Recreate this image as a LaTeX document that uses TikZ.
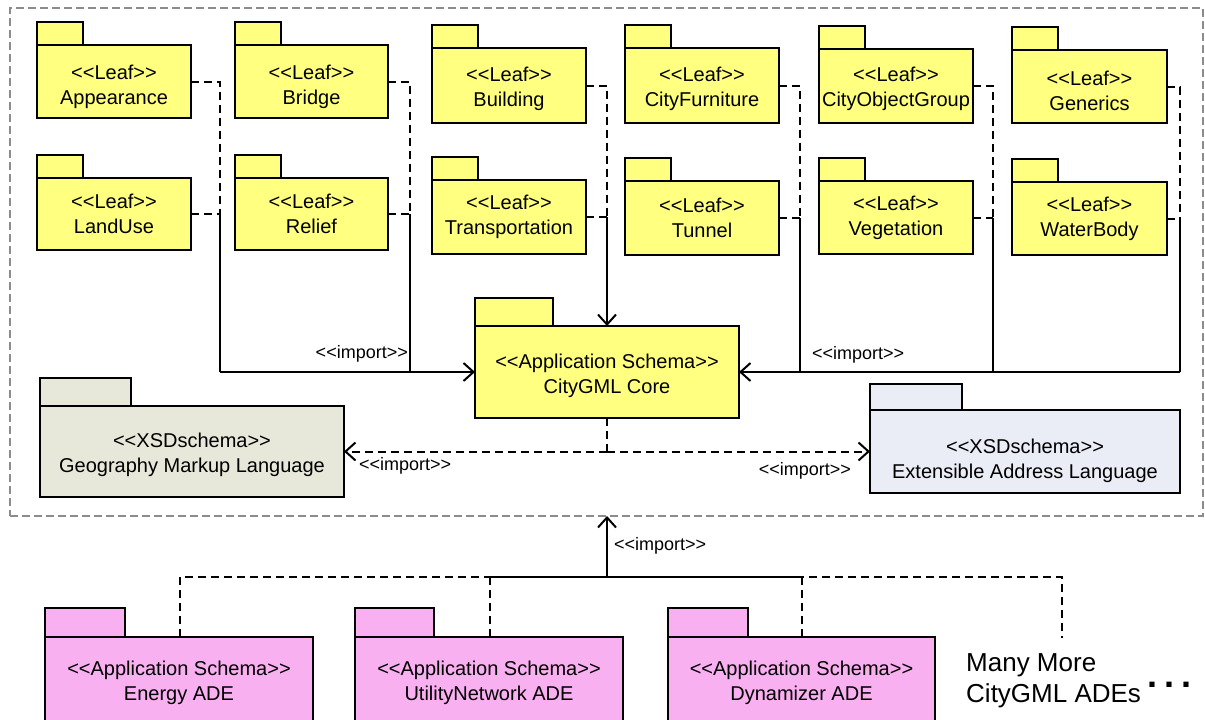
\documentclass[tikz,border=0pt]{standalone}
\usepackage{fontspec}
\setmainfont{Liberation Sans}
\usetikzlibrary{arrows.meta}
\definecolor{leafy}{RGB}{255,255,128}
\definecolor{gmlc}{RGB}{232,232,218}
\definecolor{xalc}{RGB}{234,236,246}
\definecolor{adec}{RGB}{249,176,240}
\definecolor{framec}{RGB}{140,140,140}
\newcommand\stereo[1]{<\kern0pt<#1>\kern0pt>}
% invisible strut that moves a centred two-line text down by #1 pt
\newcommand\sh[1]{\rule{0pt}{\dimexpr 15pt+#1pt+#1pt\relax}}
\newcommand\pkg[9]{%
  \node[pkgbody,#2,minimum width=#5pt,minimum height=#6pt,anchor=north west] (#1) at (#3,#4) {#9};
  \draw[pkgtab,#2] (#1.north west) rectangle ++(#7,-#8);
}
\begin{document}
\begin{tikzpicture}[x=1pt,y=-1pt,
  pkgbody/.style={draw, line width=2.8pt, inner sep=0pt, outer sep=0pt, align=center, font=\fontsize{20}{25}\selectfont},
  pkgtab/.style={draw, line width=2.8pt},
  leaf/.style={fill=leafy},
  gmlpkg/.style={fill=gmlc},
  xalpkg/.style={fill=xalc},
  adepkg/.style={fill=adec},
  dep/.style={line width=2pt, dash pattern=on 8pt off 5pt},
  imp/.style={line width=2pt},
  arr/.style={-{Straight Barb[length=10pt,width=18pt]}},
  lbl/.style={inner sep=0pt, font=\fontsize{18}{22}\selectfont},
  framebox/.style={draw=framec, line width=2pt, dash pattern=on 8pt off 4pt, inner sep=0pt, outer sep=0pt}
]
\path[use as bounding box] (0,0) rectangle (1205,720);
\clip (0,0) rectangle (1205,720);

\node[framebox, minimum width=1193pt, minimum height=508pt, anchor=north west] (frame) at (10,8) {};

% leaf packages
\pkg{app}{leaf}{37}{45}{154}{73}{46}{23}{\sh{5}\stereo{Leaf}\\Appearance}
\pkg{landuse}{leaf}{37}{178}{154}{72}{46}{23}{\stereo{Leaf}\\LandUse}
\pkg{bridge}{leaf}{235}{45}{153}{73}{46}{23}{\sh{5}\stereo{Leaf}\\Bridge}
\pkg{relief}{leaf}{235}{178}{153}{72}{46}{23}{\stereo{Leaf}\\Relief}
\pkg{building}{leaf}{432}{48}{154}{75}{46}{23}{\sh{3}\stereo{Leaf}\\Building}
\pkg{transport}{leaf}{432}{180}{154}{74}{46}{23}{\stereo{Leaf}\\Transportation}
\pkg{cityfurn}{leaf}{625}{48}{154}{75}{46}{23}{\sh{3}\stereo{Leaf}\\CityFurniture}
\pkg{tunnel}{leaf}{625}{181}{154}{74}{46}{23}{\stereo{Leaf}\\Tunnel}
\pkg{cog}{leaf}{819}{49}{154}{74}{46}{23}{\sh{3}\stereo{Leaf}\\CityObjectGroup}
\pkg{veg}{leaf}{819}{181}{154}{73}{46}{23}{\stereo{Leaf}\\Vegetation}
\pkg{generics}{leaf}{1012}{50}{155}{73}{46}{23}{\sh{4}\stereo{Leaf}\\Generics}
\pkg{water}{leaf}{1012}{182}{155}{73}{46}{23}{\stereo{Leaf}\\WaterBody}

% core and XSD schemas
\pkg{core}{leaf}{475}{326}{264}{92}{78}{28}{\sh{4}\stereo{Application Schema}\\CityGML Core}
\pkg{gml}{gmlpkg}{40}{406}{304}{91}{91}{28}{\sh{3}\stereo{XSDschema}\\Geography Markup Language}
\pkg{xal}{xalpkg}{870}{410}{310}{83}{92}{26}{\sh{9}\stereo{XSDschema}\\Extensible Address Language}

% ADE packages
\pkg{energy}{adepkg}{45}{637}{268}{88}{80}{29}{\sh{2}\stereo{Application Schema}\\Energy ADE}
\pkg{utility}{adepkg}{355}{637}{268}{88}{79}{29}{\sh{2}\stereo{Application Schema}\\UtilityNetwork ADE}
\pkg{dyn}{adepkg}{668}{637}{267}{88}{80}{29}{\sh{2}\stereo{Application Schema}\\Dynamizer ADE}

\node[anchor=north west, align=left, inner sep=0pt, font=\fontsize{26}{31}\selectfont] (more) at (966,653) {Many More\\CityGML ADEs};
\node[anchor=base west, inner sep=0pt, font=\fontsize{36}{40}\selectfont\bfseries] (dots) at (1147,687) {.\hspace{7pt}.\hspace{7pt}.};

% import labels
\node[lbl, anchor=east] (imp1) at (408,354) {\stereo{import}};
\node[lbl, anchor=west] (imp2) at (812,355) {\stereo{import}};
\node[lbl, anchor=west] (imp3) at (359,466) {\stereo{import}};
\node[lbl, anchor=east] (imp4) at (851,471) {\stereo{import}};
\node[lbl, anchor=west] (imp5) at (614,546) {\stereo{import}};

% junction coordinates
\coordinate (j1) at (220,372);
\coordinate (j2) at (410,372);
\coordinate (j4) at (800,372);
\coordinate (j5) at (993,372);
\coordinate (j6) at (1180,372);

% left columns
\draw[dep] (app.east) -- (app.east -| j1) -- (landuse.east -| j1);
\draw[dep] (landuse.east) -- (landuse.east -| j1);
\draw[imp] (landuse.east -| j1) -- (j1);
\draw[dep] (bridge.east) -- (bridge.east -| j2) -- (relief.east -| j2);
\draw[dep] (relief.east) -- (relief.east -| j2);
\draw[imp] (relief.east -| j2) -- (j2);
\draw[imp,arr] (j1) -- (core.west);

% middle column
\draw[dep] (building.east) -- (building.east -| core.north) -- (transport.east -| core.north);
\draw[dep] (transport.east) -- (transport.east -| core.north);
\draw[imp,arr] (transport.east -| core.north) -- (core.north);

% right columns
\draw[dep] (cityfurn.east) -- (cityfurn.east -| j4) -- (tunnel.east -| j4);
\draw[dep] (tunnel.east) -- (tunnel.east -| j4);
\draw[imp] (tunnel.east -| j4) -- (j4);
\draw[dep] (cog.east) -- (cog.east -| j5) -- (veg.east -| j5);
\draw[dep] (veg.east) -- (veg.east -| j5);
\draw[imp] (veg.east -| j5) -- (j5);
\draw[dep] (generics.east) -- (generics.east -| j6) -- (water.east -| j6);
\draw[dep] (water.east) -- (water.east -| j6);
\draw[imp] (water.east -| j6) -- (j6);
\draw[imp,arr] (j6) -- (core.east);

% core to XSD schemas
\coordinate (cd) at (core.south |- gml.east);
\draw[dep] (core.south) -- (cd);
\draw[dep,arr] (cd) -- (gml.east);
\draw[dep,arr] (cd) -- (xal.west);

% ADE bus
\coordinate (b1) at (180,577);
\coordinate (b2) at (490,577);
\coordinate (b3) at (802,577);
\coordinate (b4) at (1062,577);
\coordinate (bus) at (607,577);
\coordinate (mm) at (1062,638);
\draw[dep] (energy.north -| b1) -- (b1) -- (b4) -- (mm);
\draw[dep] (utility.north -| b2) -- (b2);
\draw[dep] (dyn.north -| b3) -- (b3);
\draw[imp] (b2) -- (b3);
\draw[imp,arr] (bus) -- (bus |- frame.south);
\end{tikzpicture}
\end{document}
